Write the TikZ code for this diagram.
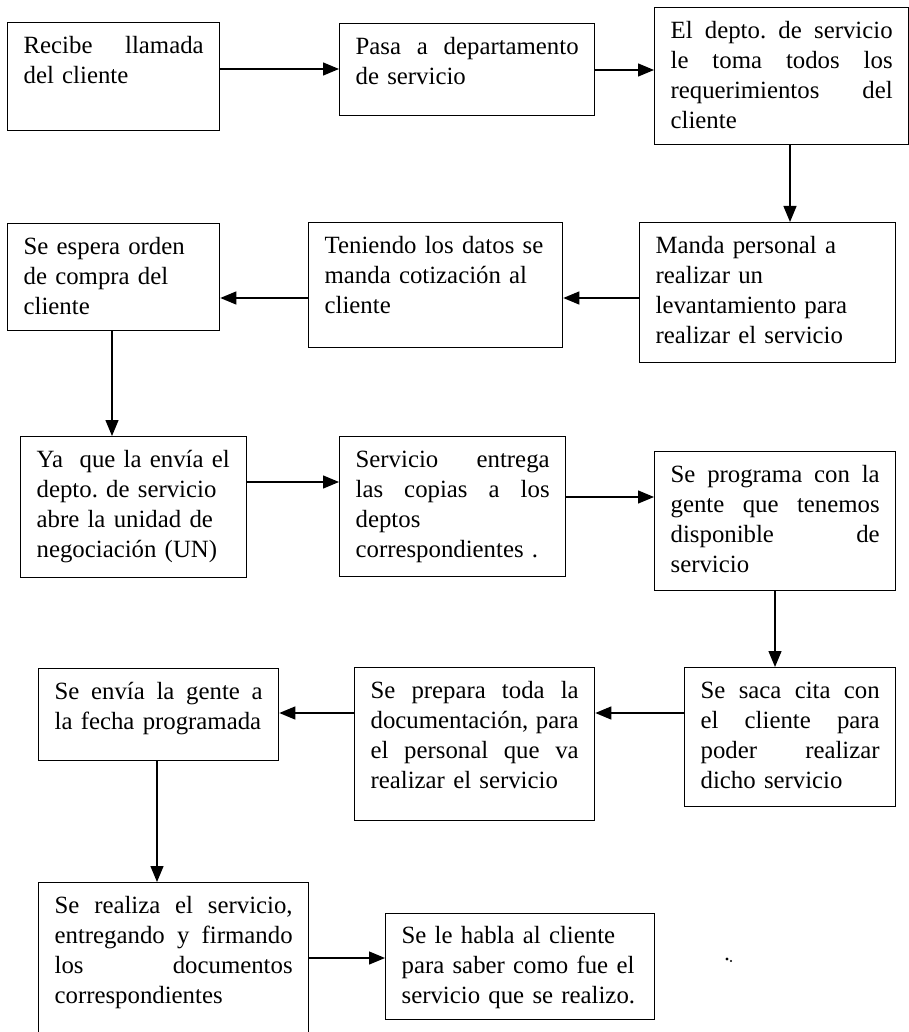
\documentclass[tikz,border=0pt]{standalone}
\usepackage{fontspec}
\setmainfont{Liberation Serif}
\usetikzlibrary{arrows.meta}
\newcommand{\jl}[1]{\makebox[\hsize][s]{\spaceskip=0pt\xspaceskip=0pt\relax #1}}
\newcommand{\nl}[1]{\mbox{#1}}
\frenchspacing
\begin{document}
\begin{tikzpicture}[x=1pt,y=-1pt,
  stepbox/.style={draw, line width=1.3pt, anchor=north west, inner xsep=16pt, inner ysep=0pt,
    align=left, font=\fontsize{24.8}{30}\selectfont\frenchspacing, text height=31pt},
  arr/.style={line width=1.3pt, -{Triangle[length=16pt,width=13pt]}}]
\useasboundingbox (0,0) rectangle (909,1032);

\node[stepbox, text width=180pt, text depth=77pt] (b1) at (7,22)
  {\jl{Recibe llamada}\\ \nl{del cliente}};
\node[stepbox, text width=223pt, text depth=61pt] (b2) at (339,23)
  {\jl{Pasa a departamento}\\ \nl{de servicio}};
\node[stepbox, text width=222pt, text depth=106pt] (b3) at (654,7)
  {\jl{El depto. de servicio}\\ \jl{le toma todos los}\\ \jl{requerimientos del}\\ \nl{cliente}};

\node[stepbox, text width=180pt, text depth=76pt] (b4) at (7,223)
  {\nl{Se espera orden}\\ \nl{de compra del}\\ \nl{cliente}};
\node[stepbox, text width=222pt, text depth=94pt] (b5) at (308,222)
  {\nl{Teniendo los datos se}\\ \nl{manda cotización al}\\ \nl{cliente}};
\node[stepbox, text width=224pt, text depth=109pt] (b6) at (639,222)
  {\nl{Manda personal a}\\ \nl{realizar un}\\ \nl{levantamiento para}\\ \nl{realizar el servicio}};

\node[stepbox, text width=194pt, text depth=110pt] (b7) at (20,436)
  {\nl{Ya\ \ que la envía el}\\ \nl{depto. de servicio}\\ \nl{abre la unidad de}\\ \nl{negociación (UN)}};
\node[stepbox, text width=194pt, text depth=109pt] (b8) at (339,436)
  {\jl{Servicio entrega}\\ \jl{las copias a los}\\ \nl{deptos}\\ \nl{correspondientes .}};
\node[stepbox, text width=209pt, text depth=108pt] (b9) at (654,451)
  {\jl{Se programa con la}\\ \jl{gente que tenemos}\\ \jl{disponible de}\\ \nl{servicio}};

\node[stepbox, text width=208pt, text depth=61pt] (b10) at (38,668)
  {\jl{Se envía la gente a}\\ \nl{la fecha programada}};
\node[stepbox, text width=208pt, text depth=122pt] (b11) at (354,667)
  {\jl{Se prepara toda la}\\ \jl{documentación, para}\\ \jl{el personal que va}\\ \nl{realizar el servicio}};
\node[stepbox, text width=179pt, text depth=108pt] (b12) at (684,667)
  {\jl{Se saca cita con}\\ \jl{el cliente para}\\ \jl{poder realizar}\\ \nl{dicho servicio}};

\node[stepbox, text width=238pt, text depth=125pt] (b13) at (38,882)
  {\jl{Se realiza el servicio,}\\ \jl{entregando y firmando}\\ \jl{los documentos}\\ \nl{correspondientes}};
\node[stepbox, text width=237pt, text depth=76pt, text height=30pt] (b14) at (385,913)
  {\nl{Se le habla al cliente}\\ \nl{para saber como fue el}\\ \nl{servicio que se realizo.}};

\coordinate (r1) at (0,69);
\coordinate (r2) at (0,70);
\coordinate (r3) at (0,298);
\coordinate (r4) at (0,482);
\coordinate (r5) at (0,497);
\coordinate (r6) at (0,713);
\coordinate (r7) at (0,958);
\coordinate (c1) at (790,0);
\coordinate (c2) at (112,0);
\coordinate (c3) at (775,0);
\coordinate (c4) at (157,0);

\draw[arr] (b1.east |- r1) -- (b2.west |- r1);
\draw[arr] (b2.east |- r2) -- (b3.west |- r2);
\draw[arr] (b3.south -| c1) -- (b6.north -| c1);
\draw[arr] (b6.west |- r3) -- (b5.east |- r3);
\draw[arr] (b5.west |- r3) -- (b4.east |- r3);
\draw[arr] (b4.south -| c2) -- (b7.north -| c2);
\draw[arr] (b7.east |- r4) -- (b8.west |- r4);
\draw[arr] (b8.east |- r5) -- (b9.west |- r5);
\draw[arr] (b9.south -| c3) -- (b12.north -| c3);
\draw[arr] (b12.west |- r6) -- (b11.east |- r6);
\draw[arr] (b11.west |- r6) -- (b10.east |- r6);
\draw[arr] (b10.south -| c4) -- (b13.north -| c4);
\draw[arr] (b13.east |- r7) -- (b14.west |- r7);

\fill (727,959) circle (1.6pt);
\fill (731,961) circle (1.1pt);
\end{tikzpicture}
\end{document}
